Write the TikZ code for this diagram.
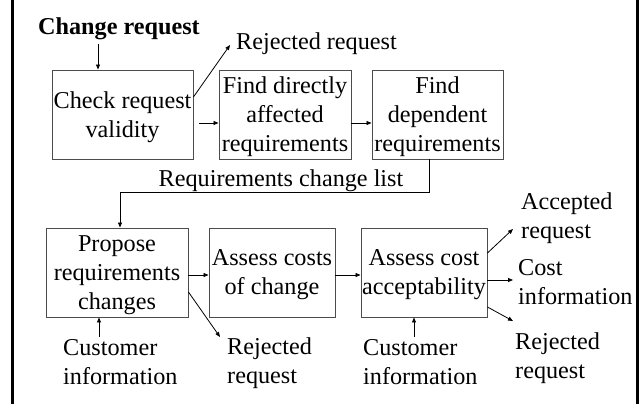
\documentclass[tikz,border=0pt]{standalone}
\usepackage{fontspec}
\setmainfont{Liberation Serif}
\usetikzlibrary{arrows.meta,calc}
\begin{document}
\begin{tikzpicture}[x=1pt,y=-1pt,
  every node/.style={inner sep=0pt, font=\fontsize{24.2}{29}\selectfont},
  box/.style={draw=black!70, line width=0.9pt, align=center, minimum height=89pt, text depth=0pt},
  lbl/.style={align=left},
  arr/.style={-{Triangle[length=5pt,width=4pt]}, line width=0.8pt},
  frame/.style={line width=3pt}
  ]
\useasboundingbox (0,0) rectangle (643,404);
\draw[frame] (12.5,0) -- (12.5,404);
\draw[frame] (637,0) -- (637,404);

\node[box, minimum width=141pt] (check) at (122.5,114.5) {Check request\\validity};
\node[box, minimum width=132pt] (direct) at (285,114.5) {Find directly\\affected\\requirements};
\node[box, minimum width=131pt] (dep) at (437.5,114.5) {Find\\dependent\\requirements};
\node[box, minimum width=142pt] (prop) at (117,272.5) {Propose\\requirements\\changes};
\node[box, minimum width=126pt] (cost) at (272,272.5) {Assess costs\\of change};
\node[box, minimum width=126pt] (acc) at (424,272.5) {Assess cost\\acceptability};

\node[font=\bfseries\fontsize{24.2}{29}\selectfont] (cr) at (119,29) {Change request};
\node[anchor=west] (rej1) at (236,44) {Rejected request};
\node (rcl) at (281,181) {Requirements change list};
\node[lbl, anchor=west] (cust1) at (63,362) {Customer\\information};
\node[lbl, anchor=west] (rej2) at (227,363.5) {Rejected\\request};
\node[lbl, anchor=west] (cust2) at (363,362) {Customer\\information};
\node[lbl, anchor=west] (accr) at (521,218) {Accepted\\request};
\node[lbl, anchor=west] (costi) at (518,282.5) {Cost\\information};
\node[lbl, anchor=west] (rej3) at (515,358) {Rejected\\request};

\draw[arr] ($(check.north)+(-24.5,-26)$) -- ($(check.north)+(-24.5,0)$);
\draw[arr] ($(check.east)+(0,-17.5)$) -- ($(rej1.west)+(-6,1)$);
\draw[arr] ($(check.east)+(6,8.5)$) -- ($(direct.west)+(0,8.5)$);
\draw[arr] ($(direct.east)+(0,8.5)$) -- ($(dep.west)+(0,8.5)$);
\draw[arr] ($(dep.south)+(-8.5,0)$) -- ++(0,33) -| ($(prop.north)+(3,0)$);
\draw[arr] ($(prop.east)+(0,2.5)$) -- ($(cost.west)+(0,2.5)$);
\draw[arr] ($(cost.east)+(0,2.5)$) -- ($(acc.west)+(0,2.5)$);
\draw[arr] ($(prop.east)+(0,19.5)$) -- ($(rej2.west)+(-7,-26.5)$);
\draw[arr] ($(cust1.west)+(36,-25)$) -- ($(prop.south)+(-18,0)$);
\draw[arr] ($(cust2.west)+(51,-25)$) -- ($(acc.south)+(-10,0)$);
\draw[arr] ($(acc.east)+(0,-19.5)$) -- ($(accr.west)+(-8,11)$);
\draw[arr] ($(acc.east)+(0,7.5)$) -- ($(costi.west)+(-5,-2.5)$);
\draw[arr] ($(acc.east)+(0,34.5)$) -- ($(rej3.west)+(-2,-37)$);
\end{tikzpicture}
\end{document}
